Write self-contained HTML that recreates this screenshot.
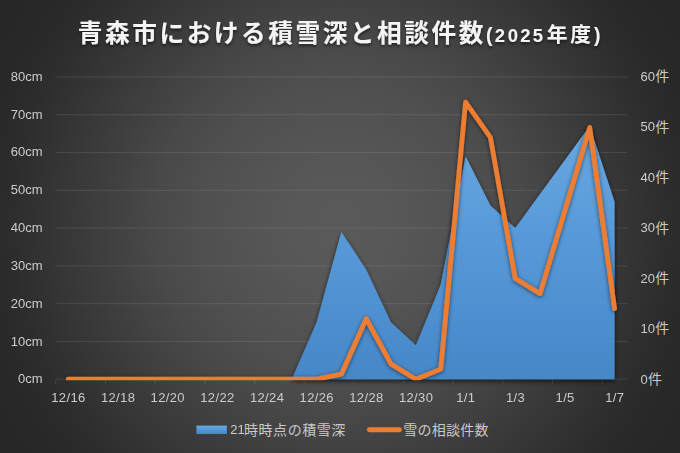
<!DOCTYPE html>
<html lang="ja">
<head>
<meta charset="utf-8">
<title>青森市における積雪深と相談件数(2025年度)</title>
<style>
html,body{margin:0;padding:0;background:#2b2b2b;}
body{width:680px;height:453px;overflow:hidden;font-family:"Liberation Sans","Noto Sans CJK JP",sans-serif;}
svg{display:block;}
text{font-family:"Liberation Sans","Noto Sans CJK JP",sans-serif;}
.lab{font-size:13px;fill:#cecece;}
.hid{fill:none;stroke:none;opacity:0;}
</style>
</head>
<body>
<svg width="680" height="453" viewBox="0 0 680 453" role="img" aria-label="青森市における積雪深と相談件数(2025年度)">
<defs>
<radialGradient id="bg" gradientUnits="userSpaceOnUse" cx="340" cy="226.5" r="408.5">
<stop offset="0" stop-color="#5a5a5a"/><stop offset="0.05" stop-color="#595959"/><stop offset="0.1" stop-color="#585858"/><stop offset="0.15" stop-color="#575757"/><stop offset="0.2" stop-color="#555555"/><stop offset="0.25" stop-color="#535353"/><stop offset="0.3" stop-color="#515151"/><stop offset="0.35" stop-color="#4f4f4f"/><stop offset="0.4" stop-color="#4c4c4c"/><stop offset="0.45" stop-color="#494949"/><stop offset="0.5" stop-color="#454545"/><stop offset="0.55" stop-color="#414141"/><stop offset="0.6" stop-color="#3d3d3d"/><stop offset="0.65" stop-color="#393939"/><stop offset="0.7" stop-color="#353535"/><stop offset="0.75" stop-color="#313131"/><stop offset="0.8" stop-color="#2d2d2d"/><stop offset="0.85" stop-color="#2a2a2a"/><stop offset="0.9" stop-color="#282828"/><stop offset="0.95" stop-color="#272727"/><stop offset="1" stop-color="#262626"/>
</radialGradient>
<linearGradient id="blue" x1="0" y1="0" x2="0" y2="1">
<stop offset="0" stop-color="#68a8e2"/><stop offset="0.5" stop-color="#5597d7"/><stop offset="1" stop-color="#4687c8"/>
</linearGradient>
<filter id="sh" x="-10%" y="-10%" width="120%" height="130%">
<feGaussianBlur in="SourceAlpha" stdDeviation="2.5"/><feOffset dx="0" dy="1.5" result="b"/>
<feFlood flood-color="#000" flood-opacity="0.7"/><feComposite in2="b" operator="in"/>
<feMerge><feMergeNode/><feMergeNode in="SourceGraphic"/></feMerge>
</filter>
<filter id="sh2" x="-10%" y="-10%" width="120%" height="130%">
<feGaussianBlur in="SourceAlpha" stdDeviation="1.9"/><feOffset dx="0" dy="1.4" result="b"/>
<feFlood flood-color="#000" flood-opacity="0.58"/><feComposite in2="b" operator="in"/>
<feMerge><feMergeNode/><feMergeNode in="SourceGraphic"/></feMerge>
</filter>
<filter id="tsh" x="-5%" y="-30%" width="110%" height="170%">
<feGaussianBlur in="SourceAlpha" stdDeviation="1.6"/><feOffset dx="0" dy="1.5" result="b"/>
<feFlood flood-color="#000" flood-opacity="0.55"/><feComposite in2="b" operator="in"/>
<feMerge><feMergeNode/><feMergeNode in="SourceGraphic"/></feMerge>
</filter>
</defs>
<rect width="680" height="453" fill="url(#bg)"/>
<g stroke="#fff" stroke-opacity="0.10" stroke-width="1">
<line x1="55.8" y1="379.2" x2="627" y2="379.2"/>
<line x1="55.8" y1="341.43" x2="627" y2="341.43"/>
<line x1="55.8" y1="303.65" x2="627" y2="303.65"/>
<line x1="55.8" y1="265.88" x2="627" y2="265.88"/>
<line x1="55.8" y1="228.1" x2="627" y2="228.1"/>
<line x1="55.8" y1="190.32" x2="627" y2="190.32"/>
<line x1="55.8" y1="152.55" x2="627" y2="152.55"/>
<line x1="55.8" y1="114.77" x2="627" y2="114.77"/>
<line x1="55.8" y1="77" x2="627" y2="77"/>
</g>
<g stroke="#fff" stroke-opacity="0.12" stroke-width="1">
<line x1="55.8" y1="379.2" x2="55.8" y2="383.7"/>
<line x1="105.47" y1="379.2" x2="105.47" y2="383.7"/>
<line x1="155.14" y1="379.2" x2="155.14" y2="383.7"/>
<line x1="204.81" y1="379.2" x2="204.81" y2="383.7"/>
<line x1="254.48" y1="379.2" x2="254.48" y2="383.7"/>
<line x1="304.15" y1="379.2" x2="304.15" y2="383.7"/>
<line x1="353.82" y1="379.2" x2="353.82" y2="383.7"/>
<line x1="403.49" y1="379.2" x2="403.49" y2="383.7"/>
<line x1="453.16" y1="379.2" x2="453.16" y2="383.7"/>
<line x1="502.83" y1="379.2" x2="502.83" y2="383.7"/>
<line x1="552.5" y1="379.2" x2="552.5" y2="383.7"/>
<line x1="602.17" y1="379.2" x2="602.17" y2="383.7"/>
</g>
<path d="M291.73 379.2L316.57 322.54L341.4 231.88L366.23 269.65L391.07 322.54L415.9 345.2L440.74 284.76L465.57 156.33L490.41 205.44L515.24 228.1L540.08 194.1L564.91 160.11L589.75 126.11L614.58 201.66L614.58 379.2Z" fill="url(#blue)" filter="url(#sh)"/>
<clipPath id="ac"><path d="M291.73 379.2L316.57 322.54L341.4 231.88L366.23 269.65L391.07 322.54L415.9 345.2L440.74 284.76L465.57 156.33L490.41 205.44L515.24 228.1L540.08 194.1L564.91 160.11L589.75 126.11L614.58 201.66L614.58 379.2Z"/></clipPath>
<g clip-path="url(#ac)" stroke="#fff" stroke-opacity="0.025" stroke-width="1">
<line x1="291.73" y1="341.43" x2="627" y2="341.43"/>
<line x1="291.73" y1="303.65" x2="627" y2="303.65"/>
<line x1="291.73" y1="265.88" x2="627" y2="265.88"/>
<line x1="291.73" y1="228.1" x2="627" y2="228.1"/>
<line x1="291.73" y1="190.32" x2="627" y2="190.32"/>
<line x1="291.73" y1="152.55" x2="627" y2="152.55"/>
<line x1="291.73" y1="114.77" x2="627" y2="114.77"/>
</g>
<clipPath id="pc"><rect x="0" y="0" width="680" height="380.2"/></clipPath>
<g clip-path="url(#pc)"><polyline points="68.22,379.2 93.05,379.2 117.89,379.2 142.72,379.2 167.56,379.2 192.39,379.2 217.23,379.2 242.06,379.2 266.9,379.2 291.73,379.2 316.57,379.2 341.4,374.16 366.23,318.76 391.07,364.09 415.9,379.2 440.74,369.13 465.57,102.18 490.41,137.44 515.24,278.47 540.08,293.58 564.91,210.47 589.75,127.37 614.58,308.69" fill="none" stroke="#ed7d31" stroke-width="4.8" stroke-linecap="round" stroke-linejoin="round" filter="url(#sh2)"/></g>
<g class="lab" text-anchor="end" opacity="0.99">
<text x="42.5" y="383.4">0cm</text>
<text x="42.5" y="345.56">10cm</text>
<text x="42.5" y="307.72">20cm</text>
<text x="42.5" y="269.89">30cm</text>
<text x="42.5" y="232.05">40cm</text>
<text x="42.5" y="194.21">50cm</text>
<text x="42.5" y="156.37">60cm</text>
<text x="42.5" y="118.54">70cm</text>
<text x="42.5" y="80.7">80cm</text>
</g>
<g class="lab" opacity="0.99">
<text x="640.6" y="383.6">0</text>
<text x="640.6" y="333.15">10</text>
<text x="640.6" y="282.7">20</text>
<text x="640.6" y="232.25">30</text>
<text x="640.6" y="181.8">40</text>
<text x="640.6" y="131.35">50</text>
<text x="640.6" y="80.9">60</text>
</g>
<g fill="#c9c9c9" font-size="14">
<text x="648.03" y="383.9">件</text>
<text x="655.26" y="333.45">件</text>
<text x="655.26" y="283">件</text>
<text x="655.26" y="232.55">件</text>
<text x="655.26" y="182.1">件</text>
<text x="655.26" y="131.65">件</text>
<text x="655.26" y="81.2">件</text>
</g>
<g class="lab" text-anchor="middle" opacity="0.99" letter-spacing="0.35">
<text x="68.42" y="402.3">12/16</text>
<text x="118.09" y="402.3">12/18</text>
<text x="167.76" y="402.3">12/20</text>
<text x="217.43" y="402.3">12/22</text>
<text x="267.1" y="402.3">12/24</text>
<text x="316.77" y="402.3">12/26</text>
<text x="366.43" y="402.3">12/28</text>
<text x="416.1" y="402.3">12/30</text>
<text x="465.77" y="402.3">1/1</text>
<text x="515.44" y="402.3">1/3</text>
<text x="565.11" y="402.3">1/5</text>
<text x="614.78" y="402.3">1/7</text>
</g>
<g fill="#f4f4f4" filter="url(#tsh)">
<text font-size="24.7" font-weight="bold" y="41.6" x="77.87 105.07 132.27 159.47 186.67 213.87 241.07 268.27 295.47 322.67 349.87 377.07 404.27 431.47 458.67">青森市における積雪深と相談件数</text>
<text font-size="20.8" font-weight="bold" y="41.6" x="546.7 570.2">年度</text>
<text font-weight="bold" text-anchor="middle" y="41.5" x="489.3 500 512.8 525.5 537.8"><tspan font-size="19.5">(</tspan><tspan font-size="18.5">2025</tspan></text>
<text font-size="19.5" font-weight="bold" text-anchor="middle" y="41.5" x="597.3">)</text>
</g>
<rect x="196.4" y="425.6" width="30.5" height="8.4" fill="url(#blue)"/>
<line x1="369.3" y1="429.7" x2="399.5" y2="429.7" stroke="#ed7d31" stroke-width="4.9" stroke-linecap="round"/>
<text class="lab" x="230.3" y="434.2" font-size="13" opacity="0.99">21</text>
<g fill="#c9c9c9" font-size="14">
<text y="434.5" x="244 258.55 273.1 287.65 302.2 316.75 331.3">時時点の積雪深</text>
<text y="434.5" x="403.2 417.45 431.7 445.95 460.2 474.45">雪の相談件数</text>
</g>
</svg>
</body>
</html>
